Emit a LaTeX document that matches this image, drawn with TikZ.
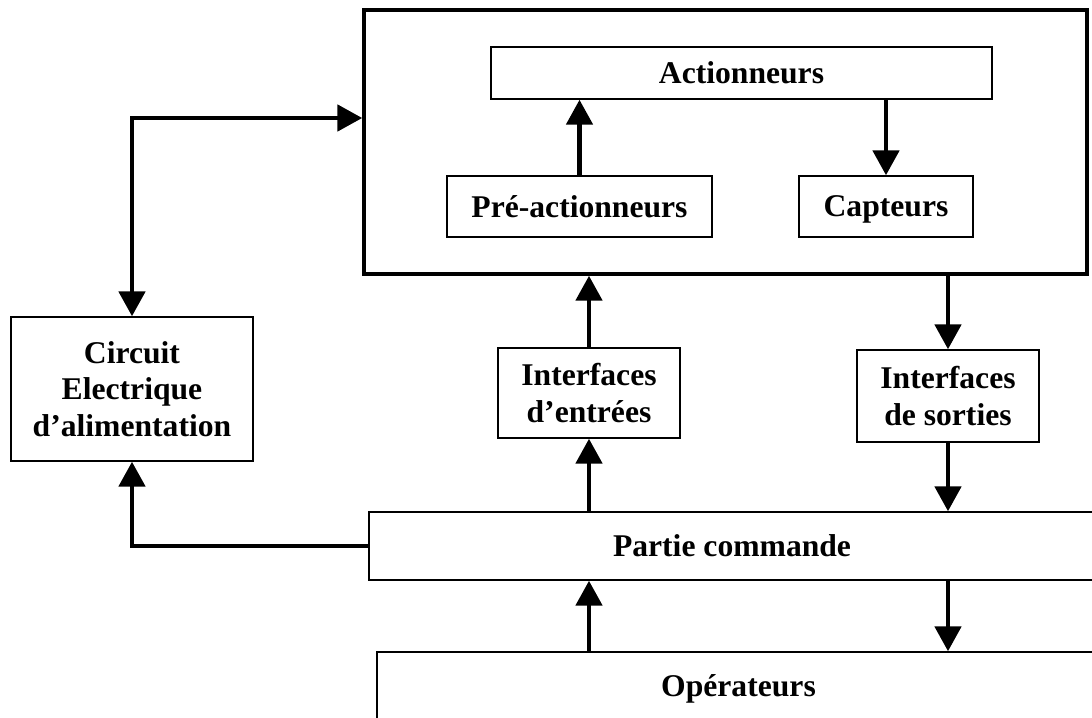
\documentclass[tikz,border=0pt]{standalone}
\usepackage{fontspec}
\setmainfont{Liberation Serif}
\usetikzlibrary{arrows.meta,calc}

\begin{document}
\begin{tikzpicture}[x=0.02cm, y=-0.02cm,
    box/.style={draw, line width=0.8pt, inner sep=0pt, align=center, text depth=0pt,
      font=\bfseries\fontsize{18}{21}\selectfont},
    bigbox/.style={draw, line width=2pt, inner sep=0pt},
    arr/.style={line width=2.8pt, -{Triangle[width=0.52cm,length=0.5cm]}}
    ]
    \useasboundingbox (0,0) rectangle (1092,717);
    \clip (0,0) rectangle (1092,717);
    \node[bigbox, minimum width=14.46cm, minimum height=5.28cm] (sys) at (725.5,142) {};
    \node[box, minimum width=10.02cm, minimum height=1.04cm] (act) at (741.5,73) {Actionneurs};
    \node[box, minimum width=5.3cm, minimum height=1.22cm] (preact) at (579.5,206.5) {Pré-actionneurs};
    \node[box, minimum width=3.48cm, minimum height=1.22cm] (capt) at (886,206.5) {Capteurs};
    \node[box, minimum width=4.84cm, minimum height=2.88cm] (circuit) at (132,389) {Circuit\\Electrique\\d’alimentation};
    \node[box, minimum width=3.64cm, minimum height=1.8cm] (ientree) at (589,393) {Interfaces\\d’entrées};
    \node[box, minimum width=3.64cm, minimum height=1.84cm] (isortie) at (948,396) {Interfaces\\de sorties};
    \node[box, minimum width=14.52cm, minimum height=1.36cm] (pc) at (732,546) {Partie commande};
    \node[box, minimum width=14.46cm, minimum height=1.36cm] (oper) at (738.5,686) {Opérateurs};

    \draw[arr, {Triangle[width=0.52cm,length=0.5cm]}-{Triangle[width=0.52cm,length=0.5cm]}]
      (circuit.north) |- ($(sys.west)+(0,-24)$);
    \draw[arr] (pc.west) -| (circuit.south);
    \draw[arr] (preact.north) -- (preact.north |- act.south);
    \draw[arr] (capt.north |- act.south) -- (capt.north);
    \draw[arr] (ientree.north) -- (ientree.north |- sys.south);
    \draw[arr] (ientree.south |- pc.north) -- (ientree.south);
    \draw[arr] (isortie.north |- sys.south) -- (isortie.north);
    \draw[arr] (isortie.south) -- (isortie.south |- pc.north);
    \draw[arr] (ientree.south |- oper.north) -- (ientree.south |- pc.south);
    \draw[arr] (isortie.south |- pc.south) -- (isortie.south |- oper.north);
  \end{tikzpicture}
\end{document}
